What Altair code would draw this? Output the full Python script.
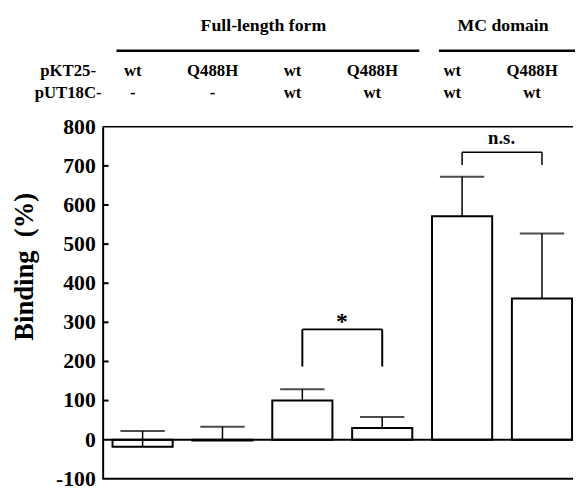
import altair as alt
import pandas as pd

# ---- data ----
categories = ["FL wt/-", "FL Q488H/-", "FL wt/wt", "FL Q488H/wt", "MC wt/wt", "MC Q488H/wt"]
pkt25_labels = ["wt", "Q488H", "wt", "Q488H", "wt", "Q488H"]
put18c_labels = ["-", "-", "wt", "wt", "wt", "wt"]
means = [-18, -2, 100, 30, 571, 361]
errors = [40, 35, 29, 28, 101, 166]
y_ticks = [-100, 0, 100, 200, 300, 400, 500, 600, 700, 800]
y_tick_labels = ["-100", "0", "100", "200", "300", "400", "500", "600", "700", "800"]
inner_ticks = [100, 200, 300, 400, 500, 600, 700]

bracket_left = ["FL wt/wt", "MC wt/wt"]
bracket_right = ["FL Q488H/wt", "MC Q488H/wt"]
bracket_top = [282, 735]
bracket_leg = [187, 702]
bracket_text = ["*", "n.s."]
bracket_text_y = [283, 755]
bracket_text_size = [24, 19]
bracket_width = [2, 1.5]

groups = ["Full-length form", "MC domain"]
row_titles = ["pKT25-", "pUT18C-"]

FONT = "Liberation Serif"
W, H = 477, 357

df = pd.DataFrame({"cat": categories, "mean": means, "err": errors,
                   "pkt": pkt25_labels, "put": put18c_labels})
df["upper"] = df["mean"] + df["err"]

br = pd.DataFrame({"l": bracket_left, "r": bracket_right, "top": bracket_top,
                   "leg": bracket_leg, "txt": bracket_text, "ty": bracket_text_y,
                   "fs": bracket_text_size, "sw": bracket_width})

xscale = alt.Scale(domain=categories, paddingInner=0.247, paddingOuter=0, range=[10, 476])
yscale = alt.Scale(domain=[-100, 800], nice=False, zero=False)

base = alt.Chart(df)

bars = base.mark_bar(fill="white", stroke="black", strokeWidth=2).encode(
    x=alt.X("cat:N", scale=xscale, axis=None, sort=categories),
    y=alt.Y("mean:Q", scale=yscale,
            axis=alt.Axis(values=y_ticks, title=None, grid=False, ticks=False, labels=False,
                          domainColor="black", domainWidth=2)),
    y2=alt.datum(0),
)

err_line = base.mark_rule(color="black", strokeWidth=1.5).encode(
    x=alt.X("cat:N", scale=xscale, sort=categories), y="mean:Q", y2="upper:Q")
err_cap = base.mark_tick(color="black", size=45, thickness=2).encode(
    x=alt.X("cat:N", scale=xscale, sort=categories), y="upper:Q")

zero_line = alt.Chart(pd.DataFrame({"v": [0]})).mark_rule(color="black", strokeWidth=2).encode(
    y="v:Q", x=alt.value(0), x2=alt.value(W))
top_line = alt.Chart(pd.DataFrame({"v": [800]})).mark_rule(color="black", strokeWidth=1.5).encode(
    y="v:Q", x=alt.value(0), x2=alt.value(W))
bottom_line = alt.Chart(pd.DataFrame({"v": [-100]})).mark_rule(color="black", strokeWidth=2).encode(
    y="v:Q", x=alt.value(0), x2=alt.value(W))
ticks_in = alt.Chart(pd.DataFrame({"v": inner_ticks})).mark_rule(color="black", strokeWidth=2).encode(
    y="v:Q", x=alt.value(0), x2=alt.value(6))
tick_labels = alt.Chart(pd.DataFrame({"v": y_ticks, "lab": y_tick_labels})).mark_text(
    font=FONT, fontWeight="bold", fontSize=22, color="black", align="right",
    baseline="middle").encode(
    y="v:Q", x=alt.value(-7), text="lab:N")

bchart = alt.Chart(br)
br_h = bchart.mark_rule(color="black").encode(
    x=alt.X("l:N", scale=xscale, sort=categories), x2="r:N", y="top:Q",
    strokeWidth=alt.StrokeWidth("sw:Q", scale=None, legend=None))
br_l = bchart.mark_rule(color="black").encode(
    x=alt.X("l:N", scale=xscale, sort=categories), y="leg:Q", y2="top:Q",
    strokeWidth=alt.StrokeWidth("sw:Q", scale=None, legend=None))
br_r = bchart.mark_rule(color="black").encode(
    x=alt.X("r:N", scale=xscale, sort=categories), y="leg:Q", y2="top:Q",
    strokeWidth=alt.StrokeWidth("sw:Q", scale=None, legend=None))
br_t = bchart.mark_text(font=FONT, fontWeight="bold", color="black", dx=40,
                        baseline="alphabetic", align="center").encode(
    x=alt.X("l:N", scale=xscale, sort=categories), y="ty:Q", text="txt:N",
    size=alt.Size("fs:Q", scale=None, legend=None))

# header table
col1 = base.mark_text(font=FONT, fontWeight="bold", fontSize=17, color="black", dx=-10,
                      baseline="alphabetic").encode(
    x=alt.X("cat:N", scale=xscale, sort=categories), y=alt.value(-51), text="pkt:N")
col2 = base.mark_text(font=FONT, fontWeight="bold", fontSize=17, color="black", dx=-10,
                      baseline="alphabetic").encode(
    x=alt.X("cat:N", scale=xscale, sort=categories), y=alt.value(-29), text="put:N")

row1 = alt.Chart(pd.DataFrame({"t": [row_titles[0]]})).mark_text(
    font=FONT, fontWeight="bold", fontSize=17, color="black", baseline="alphabetic").encode(
    x=alt.value(-35), y=alt.value(-51), text="t:N")
row2 = alt.Chart(pd.DataFrame({"t": [row_titles[1]]})).mark_text(
    font=FONT, fontWeight="bold", fontSize=17, color="black", baseline="alphabetic").encode(
    x=alt.value(-35), y=alt.value(-29), text="t:N")

g1 = alt.Chart(pd.DataFrame({"t": [groups[0]]})).mark_text(
    font=FONT, fontWeight="bold", fontSize=18, color="black", baseline="alphabetic").encode(
    x=alt.value(163), y=alt.value(-97), text="t:N")
g2 = alt.Chart(pd.DataFrame({"t": [groups[1]]})).mark_text(
    font=FONT, fontWeight="bold", fontSize=18, color="black", baseline="alphabetic").encode(
    x=alt.value(406), y=alt.value(-97), text="t:N")
gl1 = alt.Chart(pd.DataFrame({"t": [groups[0]]})).mark_rule(color="black", strokeWidth=2.5).encode(
    x=alt.value(14), x2=alt.value(321), y=alt.value(-77))
gl2 = alt.Chart(pd.DataFrame({"t": [groups[1]]})).mark_rule(color="black", strokeWidth=2.5).encode(
    x=alt.value(341), x2=alt.value(480), y=alt.value(-77))

ytitle = alt.Chart(pd.DataFrame({"t": ["Binding\u00a0 (%)"]})).mark_text(
    font=FONT, fontWeight="bold", fontSize=27, color="black", angle=270,
    baseline="alphabetic", align="center").encode(
    x=alt.value(-71), y=alt.value(142), text="t:N")

chart = alt.layer(
    bars, zero_line, err_line, err_cap, top_line, bottom_line, ticks_in, tick_labels,
    br_h, br_l, br_r, br_t, col1, col2, row1, row2, g1, g2, gl1, gl2, ytitle
).properties(
    width=W, height=H,
    autosize=alt.AutoSizeParams(type="none"),
    padding={"left": 96, "top": 117, "right": 2, "bottom": 14},
    background="white",
).configure_view(stroke=None)

chart.save("out.html", embed_options={"renderer": "svg", "actions": False})
